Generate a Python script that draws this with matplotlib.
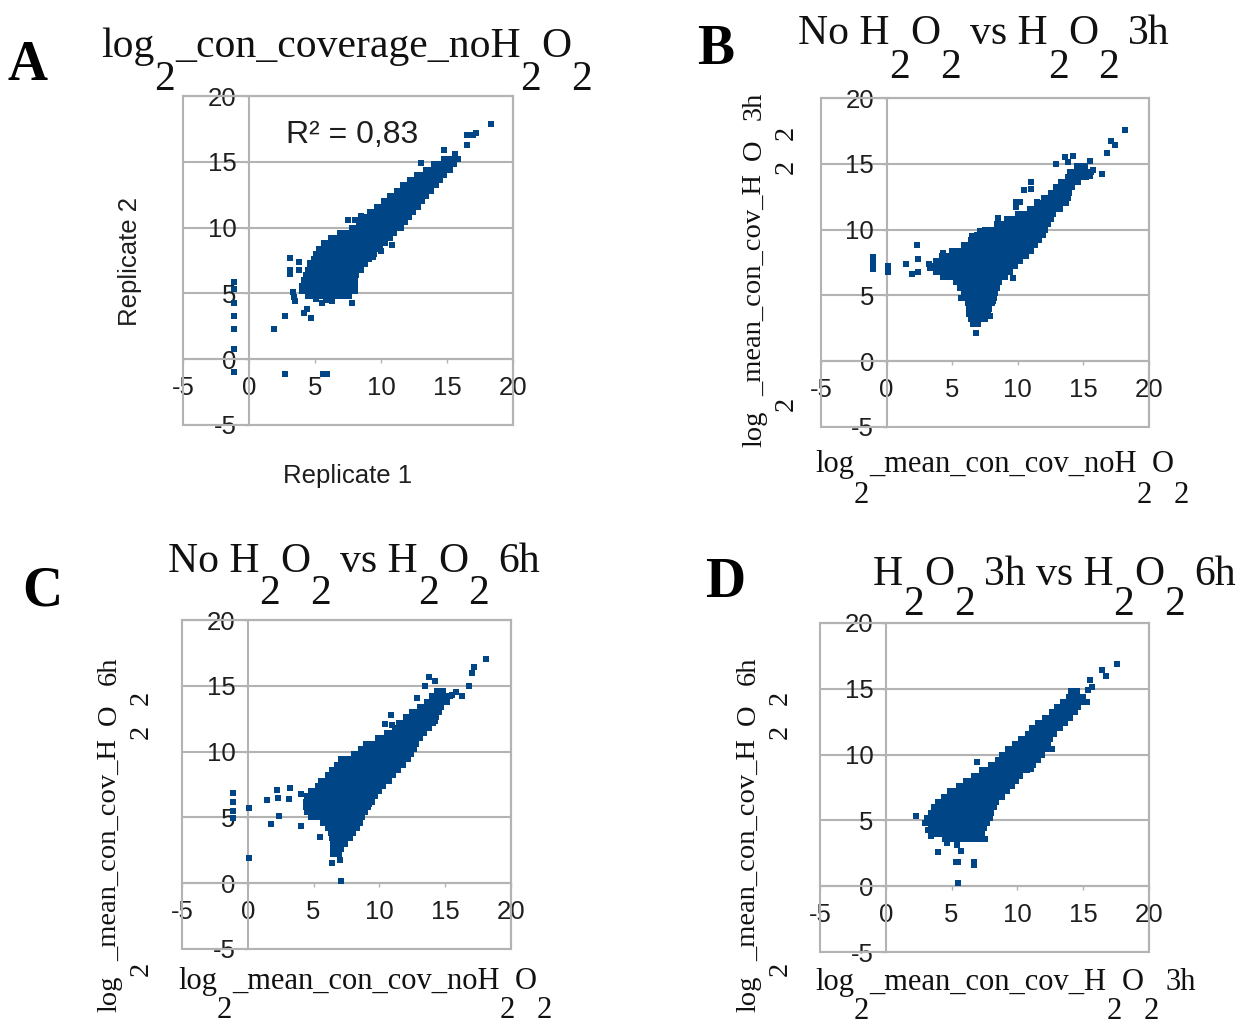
import matplotlib
matplotlib.use('Agg')
import matplotlib.pyplot as plt
from matplotlib.patches import Rectangle

W, H, DPI = 1252, 1027, 100
BLUE = '#004586'
GRID = '#b3b3b3'
TXT = '#1e1e1e'
SANS = 'Liberation Sans'
SERIF = 'Liberation Serif'
plt.rcParams['font.family'] = [SANS, 'DejaVu Sans']

tick_values = [-5, 0, 5, 10, 15, 20]
tick_labels = ['-5', '0', '5', '10', '15', '20']

# ---------------- Panel A: replicate 1 vs replicate 2 ----------------
A_rows = {
    4.8: [4.5, 4.9, 5.3, 5.7, 6.1, 6.5, 6.9, 7.3, 7.6],
    5.2: [4.0, 4.4, 4.8, 5.2, 5.6, 6.0, 6.4, 6.8, 7.2, 7.6, 8.0],
    5.6: [4.0, 4.4, 4.8, 5.2, 5.6, 6.0, 6.4, 6.8, 7.2, 7.6, 8.0],
    6.0: [4.2, 4.6, 5.0, 5.4, 5.8, 6.2, 6.6, 7.0, 7.4, 7.8, 8.0],
    6.4: [4.3, 4.7, 5.1, 5.5, 5.9, 6.3, 6.7, 7.1, 7.5, 7.9, 8.1],
    6.8: [4.5, 4.9, 5.3, 5.7, 6.1, 6.5, 6.9, 7.3, 7.7, 8.1, 8.5],
    7.2: [4.6, 5.0, 5.4, 5.8, 6.2, 6.6, 7.0, 7.4, 7.8, 8.2, 8.6, 8.8],
    7.6: [4.9, 5.3, 5.7, 6.1, 6.5, 6.9, 7.3, 7.7, 8.1, 8.5, 8.9, 9.1],
    8.0: [5.1, 5.5, 5.9, 6.3, 6.7, 7.1, 7.5, 7.9, 8.3, 8.7, 9.1, 9.5],
    8.4: [5.3, 5.7, 6.1, 6.5, 6.9, 7.3, 7.7, 8.1, 8.5, 8.9, 9.3, 9.7, 9.9],
    8.8: [5.7, 6.1, 6.5, 6.9, 7.3, 7.7, 8.1, 8.5, 8.9, 9.3, 9.7, 10.1, 10.3],
    9.2: [6.2, 6.6, 7.0, 7.4, 7.8, 8.2, 8.6, 9.0, 9.4, 9.8, 10.2, 10.6, 10.7],
    9.6: [6.9, 7.3, 7.7, 8.1, 8.5, 8.9, 9.3, 9.7, 10.1, 10.5, 10.9, 11.0],
    10.0: [7.8, 8.2, 8.6, 9.0, 9.4, 9.8, 10.2, 10.6, 11.0, 11.4, 11.5],
    10.4: [8.3, 8.7, 9.1, 9.5, 9.9, 10.3, 10.7, 11.1, 11.5, 11.8],
    10.8: [8.8, 9.2, 9.6, 10.0, 10.4, 10.8, 11.2, 11.6, 12.0, 12.1],
    11.2: [9.2, 9.6, 10.0, 10.4, 10.8, 11.2, 11.6, 12.0, 12.4],
    11.6: [9.7, 10.1, 10.5, 10.9, 11.3, 11.7, 12.1, 12.5, 12.8],
    12.0: [10.2, 10.6, 11.0, 11.4, 11.8, 12.2, 12.6, 13.0, 13.1],
    12.4: [10.7, 11.1, 11.5, 11.9, 12.3, 12.7, 13.1, 13.4],
    12.8: [11.2, 11.6, 12.0, 12.4, 12.8, 13.2, 13.6, 13.8],
    13.2: [11.7, 12.1, 12.5, 12.9, 13.3, 13.7, 14.1, 14.2],
    13.6: [12.2, 12.6, 13.0, 13.4, 13.8, 14.2, 14.5],
    14.0: [12.7, 13.1, 13.5, 13.9, 14.3, 14.7, 14.8],
    14.4: [13.4, 13.8, 14.2, 14.6, 15.0, 15.2],
    14.8: [14.0, 14.4, 14.8, 15.2, 15.5],
    15.2: [14.8, 15.2, 15.6, 15.8],
}
A_extra = [(18.3, 17.9), (17.2, 17.2), (17.0, 17.0), (16.5, 17.0), (16.5, 16.3),
           (14.8, 15.9), (15.6, 15.6), (13.0, 14.9), (7.5, 10.6), (8.0, 10.6),
           (8.5, 10.9), (6.3, 9.2), (10.8, 8.7), (3.1, 7.7), (3.1, 6.8), (3.1, 6.5),
           (3.8, 7.4), (3.8, 6.8), (4.6, 7.3), (-1.1, 5.9), (-1.1, 5.3), (-1.1, 4.3),
           (-1.1, 3.3), (-1.1, 2.3), (-1.1, 0.8), (-1.1, -1.0), (2.7, 3.3), (1.9, 2.3),
           (2.7, -1.1), (5.6, -1.1), (5.9, -1.1), (4.4, 3.8), (4.7, 3.1), (4.2, 3.5),
           (7.8, 4.3), (6.3, 4.4), (3.3, 5.1), (3.5, 4.4), (3.4, 4.7), (5.1, 4.6),
           (5.8, 4.5), (5.5, 4.3), (9.4, 7.8), (10.0, 8.2)]

# ---------------- Panel B: no H2O2 vs H2O2 3h ----------------
B_rows = {
    2.8: [6.6, 7.0],
    3.2: [6.4, 6.8, 7.2, 7.5],
    3.6: [6.3, 6.7, 7.1, 7.5, 7.7],
    4.0: [6.3, 6.7, 7.1, 7.5, 7.8],
    4.4: [6.2, 6.6, 7.0, 7.4, 7.8, 8.0],
    4.8: [6.0, 6.4, 6.8, 7.2, 7.6, 8.0, 8.2],
    5.2: [5.9, 6.3, 6.7, 7.1, 7.5, 7.9, 8.3],
    5.6: [5.6, 6.0, 6.4, 6.8, 7.2, 7.6, 8.0, 8.4],
    6.0: [5.3, 5.7, 6.1, 6.5, 6.9, 7.3, 7.7, 8.1, 8.5, 8.6],
    6.4: [4.3, 4.7, 5.1, 5.5, 5.9, 6.3, 6.7, 7.1, 7.5, 7.9, 8.3, 8.7, 9.0],
    6.8: [3.8, 4.2, 4.6, 5.0, 5.4, 5.8, 6.2, 6.6, 7.0, 7.4, 7.8, 8.2, 8.6, 9.0, 9.4],
    7.2: [3.7, 4.1, 4.5, 4.9, 5.3, 5.7, 6.1, 6.5, 6.9, 7.3, 7.7, 8.1, 8.5, 8.9, 9.3, 9.7, 9.8],
    7.6: [3.8, 4.2, 4.6, 5.0, 5.4, 5.8, 6.2, 6.6, 7.0, 7.4, 7.8, 8.2, 8.6, 9.0, 9.4, 9.8, 10.2],
    8.0: [4.2, 4.6, 5.0, 5.4, 5.8, 6.2, 6.6, 7.0, 7.4, 7.8, 8.2, 8.6, 9.0, 9.4, 9.8, 10.2, 10.6],
    8.4: [5.0, 5.4, 5.8, 6.2, 6.6, 7.0, 7.4, 7.8, 8.2, 8.6, 9.0, 9.4, 9.8, 10.2, 10.6, 11.0],
    8.8: [5.9, 6.3, 6.7, 7.1, 7.5, 7.9, 8.3, 8.7, 9.1, 9.5, 9.9, 10.3, 10.7, 11.1, 11.3],
    9.2: [6.4, 6.8, 7.2, 7.6, 8.0, 8.4, 8.8, 9.2, 9.6, 10.0, 10.4, 10.8, 11.2, 11.6],
    9.6: [6.9, 7.3, 7.7, 8.1, 8.5, 8.9, 9.3, 9.7, 10.1, 10.5, 10.9, 11.3, 11.7, 11.9],
    10.0: [7.5, 7.9, 8.3, 8.7, 9.1, 9.5, 9.9, 10.3, 10.7, 11.1, 11.5, 11.9, 12.1],
    10.4: [8.4, 8.8, 9.2, 9.6, 10.0, 10.4, 10.8, 11.2, 11.6, 12.0, 12.3],
    10.8: [9.2, 9.6, 10.0, 10.4, 10.8, 11.2, 11.6, 12.0, 12.4, 12.5],
    11.2: [10.0, 10.4, 10.8, 11.2, 11.6, 12.0, 12.4, 12.7],
    11.6: [10.9, 11.3, 11.7, 12.1, 12.5, 12.9, 13.2],
    12.0: [11.5, 11.9, 12.3, 12.7, 13.1, 13.5, 13.7],
    12.4: [12.0, 12.4, 12.8, 13.2, 13.6, 13.8],
    12.8: [12.5, 12.9, 13.3, 13.7, 13.9],
    13.2: [12.9, 13.3, 13.7, 14.1],
    13.6: [13.3, 13.7, 14.1, 14.5, 14.6],
    14.0: [13.8, 14.2, 14.6, 15.0, 15.2],
    14.4: [14.0, 14.4, 14.8, 15.2, 15.6],
    14.8: [14.5, 14.9, 15.1],
}
B_extra = [(18.2, 17.6), (17.1, 16.75), (17.4, 16.4), (16.8, 15.8), (12.9, 15.0),
           (13.6, 15.5), (14.2, 15.6), (13.8, 15.1), (15.5, 15.2), (16.4, 14.2),
           (15.7, 14.5), (15.5, 14.1), (11.0, 13.6), (10.5, 13.0), (11.0, 13.1),
           (9.9, 12.1), (10.2, 12.1), (9.9, 11.7), (11.5, 12.1), (8.5, 10.9),
           (6.5, 9.5), (7.1, 9.9), (2.3, 8.8), (4.3, 8.2), (4.2, 7.9), (2.4, 7.8),
           (3.2, 7.4), (3.3, 7.1), (1.5, 7.4), (1.9, 6.65), (2.4, 6.8), (-1.0, 7.9),
           (-1.0, 7.6), (-1.0, 7.3), (-1.0, 7.0), (0.1, 7.2), (0.1, 6.8), (9.6, 6.3),
           (5.7, 4.8), (6.5, 4.4), (8.1, 4.6), (7.9, 3.4), (7.6, 3.4), (6.9, 3.05),
           (6.8, 2.15)]

# ---------------- Panel C: no H2O2 vs H2O2 6h ----------------
C_rows = {
    2.2: [6.5, 6.9],
    2.6: [6.5, 6.9, 7.1],
    3.0: [6.5, 6.9, 7.3, 7.4],
    3.4: [6.4, 6.8, 7.2, 7.6, 7.8],
    3.8: [6.3, 6.7, 7.1, 7.5, 7.9, 8.0],
    4.2: [6.1, 6.5, 6.9, 7.3, 7.7, 8.1, 8.3],
    4.6: [5.7, 6.1, 6.5, 6.9, 7.3, 7.7, 8.1, 8.5],
    5.0: [4.8, 5.2, 5.6, 6.0, 6.4, 6.8, 7.2, 7.6, 8.0, 8.4, 8.7],
    5.4: [4.5, 4.9, 5.3, 5.7, 6.1, 6.5, 6.9, 7.3, 7.7, 8.1, 8.5, 8.9],
    5.8: [4.4, 4.8, 5.2, 5.6, 6.0, 6.4, 6.8, 7.2, 7.6, 8.0, 8.4, 8.8, 9.1],
    6.2: [4.4, 4.8, 5.2, 5.6, 6.0, 6.4, 6.8, 7.2, 7.6, 8.0, 8.4, 8.8, 9.2, 9.4],
    6.6: [4.5, 4.9, 5.3, 5.7, 6.1, 6.5, 6.9, 7.3, 7.7, 8.1, 8.5, 8.9, 9.3, 9.7],
    7.0: [4.8, 5.2, 5.6, 6.0, 6.4, 6.8, 7.2, 7.6, 8.0, 8.4, 8.8, 9.2, 9.6, 10.0],
    7.4: [5.3, 5.7, 6.1, 6.5, 6.9, 7.3, 7.7, 8.1, 8.5, 8.9, 9.3, 9.7, 10.1, 10.3],
    7.8: [5.6, 6.0, 6.4, 6.8, 7.2, 7.6, 8.0, 8.4, 8.8, 9.2, 9.6, 10.0, 10.4, 10.7],
    8.2: [6.1, 6.5, 6.9, 7.3, 7.7, 8.1, 8.5, 8.9, 9.3, 9.7, 10.1, 10.5, 10.9, 11.0],
    8.6: [6.4, 6.8, 7.2, 7.6, 8.0, 8.4, 8.8, 9.2, 9.6, 10.0, 10.4, 10.8, 11.2, 11.4],
    9.0: [6.8, 7.2, 7.6, 8.0, 8.4, 8.8, 9.2, 9.6, 10.0, 10.4, 10.8, 11.2, 11.6, 11.8],
    9.4: [7.1, 7.5, 7.9, 8.3, 8.7, 9.1, 9.5, 9.9, 10.3, 10.7, 11.1, 11.5, 11.9, 12.2],
    9.8: [8.1, 8.5, 8.9, 9.3, 9.7, 10.1, 10.5, 10.9, 11.3, 11.7, 12.1, 12.4],
    10.2: [8.6, 9.0, 9.4, 9.8, 10.2, 10.6, 11.0, 11.4, 11.8, 12.2, 12.6],
    10.6: [9.0, 9.4, 9.8, 10.2, 10.6, 11.0, 11.4, 11.8, 12.2, 12.6, 12.8],
    11.0: [9.9, 10.3, 10.7, 11.1, 11.5, 11.9, 12.3, 12.7, 13.1],
    11.4: [10.6, 11.0, 11.4, 11.8, 12.2, 12.6, 13.0, 13.4],
    11.8: [11.2, 11.6, 12.0, 12.4, 12.8, 13.2, 13.6, 13.8],
    12.2: [11.5, 11.9, 12.3, 12.7, 13.1, 13.5, 13.9, 14.1],
    12.6: [12.0, 12.4, 12.8, 13.2, 13.6, 14.0, 14.3],
    13.0: [12.5, 12.9, 13.3, 13.7, 14.1, 14.5],
    13.4: [13.1, 13.5, 13.9, 14.3, 14.7],
    13.8: [13.6, 14.0, 14.4, 14.8, 15.1],
    14.2: [14.0, 14.4, 14.8, 15.2, 15.4],
    14.6: [14.4, 14.8],
}
C_extra = [(18.1, 17.0), (17.2, 16.4), (17.0, 16.0), (16.8, 15.0), (16.3, 14.2),
           (13.8, 15.7), (14.2, 15.35), (13.5, 15.0), (12.85, 14.1), (15.5, 14.3),
           (15.8, 14.5), (10.9, 12.8), (10.45, 12.1), (10.95, 12.05), (14.2, 12.3),
           (7.15, 9.4), (7.8, 9.4), (2.2, 7.1), (3.2, 7.2), (2.3, 6.5), (3.1, 6.4),
           (1.45, 6.35), (4.05, 6.8), (-1.1, 6.85), (-1.1, 6.2), (-1.1, 5.5),
           (-1.1, 4.95), (0.1, 5.75), (2.4, 5.1), (1.8, 4.5), (4.05, 4.35), (5.5, 3.5),
           (0.1, 1.9), (6.4, 1.5), (7.0, 1.8), (7.1, 0.13), (9.2, 6.0), (8.5, 4.8),
           (8.0, 4.1), (7.65, 3.4)]

# ---------------- Panel D: H2O2 3h vs H2O2 6h ----------------
D_rows = {
    3.6: [4.5, 4.9, 5.3, 5.7, 6.1, 6.5, 6.9, 7.1],
    4.0: [3.7, 4.1, 4.5, 4.9, 5.3, 5.7, 6.1, 6.5, 6.9, 7.3],
    4.4: [3.4, 3.8, 4.2, 4.6, 5.0, 5.4, 5.8, 6.2, 6.6, 7.0, 7.4, 7.5],
    4.8: [3.0, 3.4, 3.8, 4.2, 4.6, 5.0, 5.4, 5.8, 6.2, 6.6, 7.0, 7.4, 7.7],
    5.2: [3.1, 3.5, 3.9, 4.3, 4.7, 5.1, 5.5, 5.9, 6.3, 6.7, 7.1, 7.5, 7.9],
    5.6: [3.4, 3.8, 4.2, 4.6, 5.0, 5.4, 5.8, 6.2, 6.6, 7.0, 7.4, 7.8, 8.0],
    6.0: [3.7, 4.1, 4.5, 4.9, 5.3, 5.7, 6.1, 6.5, 6.9, 7.3, 7.7, 8.1, 8.2],
    6.4: [4.0, 4.4, 4.8, 5.2, 5.6, 6.0, 6.4, 6.8, 7.2, 7.6, 8.0, 8.4],
    6.8: [4.4, 4.8, 5.2, 5.6, 6.0, 6.4, 6.8, 7.2, 7.6, 8.0, 8.4, 8.8],
    7.2: [4.9, 5.3, 5.7, 6.1, 6.5, 6.9, 7.3, 7.7, 8.1, 8.5, 8.9, 9.2],
    7.6: [5.6, 6.0, 6.4, 6.8, 7.2, 7.6, 8.0, 8.4, 8.8, 9.2, 9.6],
    8.0: [6.1, 6.5, 6.9, 7.3, 7.7, 8.1, 8.5, 8.9, 9.3, 9.7, 9.9],
    8.4: [6.7, 7.1, 7.5, 7.9, 8.3, 8.7, 9.1, 9.5, 9.9, 10.2],
    8.8: [7.3, 7.7, 8.1, 8.5, 8.9, 9.3, 9.7, 10.1, 10.5, 10.7],
    9.2: [8.0, 8.4, 8.8, 9.2, 9.6, 10.0, 10.4, 10.8, 11.2],
    9.6: [8.5, 8.9, 9.3, 9.7, 10.1, 10.5, 10.9, 11.3, 11.6],
    10.0: [8.8, 9.2, 9.6, 10.0, 10.4, 10.8, 11.2, 11.6, 11.9],
    10.4: [9.3, 9.7, 10.1, 10.5, 10.9, 11.3, 11.7, 12.1, 12.2],
    10.8: [9.8, 10.2, 10.6, 11.0, 11.4, 11.8, 12.2, 12.3],
    11.2: [10.3, 10.7, 11.1, 11.5, 11.9, 12.3, 12.5],
    11.6: [10.8, 11.2, 11.6, 12.0, 12.4, 12.8],
    12.0: [11.1, 11.5, 11.9, 12.3, 12.7, 13.1, 13.2],
    12.4: [11.6, 12.0, 12.4, 12.8, 13.2, 13.6],
    12.8: [12.1, 12.5, 12.9, 13.3, 13.7, 14.0],
    13.2: [12.6, 13.0, 13.4, 13.8, 14.2, 14.4],
    13.6: [13.0, 13.4, 13.8, 14.2, 14.6],
    14.0: [13.5, 13.9, 14.3, 14.7, 15.1, 15.3],
    14.4: [13.9, 14.3, 14.7, 15.0],
    14.8: [14.1, 14.5],
}
D_extra = [(17.6, 16.9), (16.4, 16.4), (16.7, 15.95), (15.5, 15.65), (15.7, 15.1),
           (15.4, 14.9), (12.6, 10.45), (6.9, 9.45), (2.3, 5.3), (3.65, 5.8),
           (3.4, 3.8), (4.0, 2.6), (4.65, 3.25), (5.4, 3.1), (5.7, 2.7), (7.55, 3.6),
           (5.3, 1.85), (5.45, 1.85), (6.7, 1.85), (6.7, 1.6), (5.5, 0.28),
           (11.6, 9.6), (11.0, 8.9), (3.2, 4.3)]

R2_text = 'R² = 0,83'

# ---------------- drawing ----------------
fig = plt.figure(figsize=(W / DPI, H / DPI), dpi=DPI)
fig.patch.set_facecolor('white')

MS = 25  # marker area (pt^2)


def panel(box, rows, extra):
    L, T, R, B = box
    ax = fig.add_axes([L / W, 1 - B / H, (R - L) / W, (B - T) / H])
    ax.set_xlim(-5, 20)
    ax.set_ylim(-5, 20)
    xs = [x for yv, row in rows.items() for x in row] + [p[0] for p in extra]
    ys = [yv for yv, row in rows.items() for x in row] + [p[1] for p in extra]
    ax.scatter(xs, ys, s=MS, marker='s', c=BLUE, linewidths=0, zorder=4)
    ax.spines['left'].set_position(('data', 0))
    ax.spines['bottom'].set_position(('data', 0))
    for sp in ax.spines.values():
        sp.set_color(GRID)
        sp.set_linewidth(1.5)
    ax.add_patch(Rectangle((0, 0), 1, 1, transform=ax.transAxes, fill=False,
                           ec=GRID, lw=1.5, zorder=2, clip_on=False))
    ax.set_xticks(tick_values)
    ax.set_xticklabels(tick_labels)
    ax.set_yticks(tick_values)
    ax.set_yticklabels(tick_labels)
    ax.tick_params(direction='out', length=3, width=1, color=GRID,
                   labelsize=18.5, labelcolor=TXT)
    ax.tick_params(axis='x', pad=9)
    ax.tick_params(axis='y', pad=6)
    ax.grid(axis='y', color=GRID, lw=1.5)
    ax.set_axisbelow(True)
    return ax


axA = panel((183, 96, 513, 425), A_rows, A_extra)
axB = panel((821, 98, 1149, 427), B_rows, B_extra)
axC = panel((182, 620, 511, 949), C_rows, C_extra)
axD = panel((820, 623, 1149, 952), D_rows, D_extra)

axA.text(7.8, 17.0, R2_text, ha='center', va='center', fontsize=23, color=TXT)

# overlay in pixel coordinates for titles and labels
ov = fig.add_axes([0, 0, 1, 1])
ov.set_xlim(0, W)
ov.set_ylim(H, 0)
ov.axis('off')
ov.patch.set_visible(False)


def chain(x, y, pieces, size, drop, rot=0):
    kw = dict(fontsize=size, fontfamily=SERIF, color='#111111')
    s0, l0 = pieces[0][0], pieces[0][1]
    if rot == 0:
        prev = ov.text(x, y + l0 * drop, s0, ha='left', va='baseline', **kw)
    else:
        prev = ov.text(x + l0 * drop, y, s0, ha='right', va='bottom', rotation=90, **kw)
    pl = l0
    for p in pieces[1:]:
        s, lvl = p[0], p[1]
        gap = p[2] if len(p) > 2 else 0
        if rot == 0:
            a = ov.annotate(s, xy=(1, 0), xycoords=prev, xytext=(gap, (pl - lvl) * drop),
                            textcoords='offset pixels', ha='left', va='bottom',
                            annotation_clip=False, **kw)
        else:
            a = ov.annotate(s, xy=(1, 1), xycoords=prev, xytext=((lvl - pl) * drop, gap),
                            textcoords='offset pixels', ha='right', va='bottom',
                            rotation=90, annotation_clip=False, **kw)
        prev = a
        pl = lvl


TS, XS, YS = 30, 22, 20.5
SP = 9
titleA = [('log', 0), ('2', 1), ('_con_coverage_noH', 0), ('2', 1), ('O', 0), ('2', 1)]
titleB = [('No H', 0), ('2', 1), ('O', 0), ('2', 1), ('vs H', 0, SP), ('2', 1), ('O', 0),
          ('2', 1), ('3h', 0, SP)]
titleC = [('No H', 0), ('2', 1), ('O', 0), ('2', 1), ('vs H', 0, SP), ('2', 1), ('O', 0),
          ('2', 1), ('6h', 0, SP)]
titleD = [('H', 0), ('2', 1), ('O', 0), ('2', 1), ('3h vs H', 0, SP), ('2', 1), ('O', 0),
          ('2', 1), ('6h', 0, SP)]
xlab_no = [('log', 0), ('2', 1), ('_mean_con_cov_noH', 0), ('2', 1), ('O', 0), ('2', 1)]
xlab_3h = [('log', 0), ('2', 1), ('_mean_con_cov_H', 0), ('2', 1), ('O', 0), ('2', 1),
           ('3h', 0, 7)]
ylab_3h = [('log', 0), ('2', 1), ('_mean_con_cov_H', 0), ('2', 1), ('O', 0), ('2', 1),
           ('3h', 0, 5)]
ylab_6h = [('log', 0), ('2', 1), ('_mean_con_cov_H', 0), ('2', 1), ('O', 0), ('2', 1),
           ('6h', 0, 5)]

chain(101, 57, titleA, TS, 33)
chain(798, 44, titleB, TS, 34)
chain(168, 572, titleC, TS, 32)
chain(873, 585, titleD, TS, 30)

chain(815, 472, xlab_no, XS, 31)
chain(178, 989, xlab_no, XS, 29)
chain(815, 990, xlab_3h, XS, 29)

chain(767, 447, ylab_3h, YS, 32, rot=90)
chain(122, 1012, ylab_6h, YS, 32, rot=90)
chain(761, 1012, ylab_6h, YS, 32, rot=90)

for letter, cx, cy in [('A', 28, 66), ('B', 716, 50), ('C', 42, 592), ('D', 725, 583)]:
    ov.text(cx, cy, letter, ha='center', va='center', fontsize=40, fontweight='bold',
            fontfamily=SERIF, color='black')

ov.text(348, 476, 'Replicate 1', ha='center', va='center', fontsize=18.5, color=TXT)
ov.text(130, 262, 'Replicate 2', ha='center', va='center', fontsize=18.5, color=TXT,
        rotation=90)

fig.savefig('out.png', dpi=DPI, facecolor='white')
